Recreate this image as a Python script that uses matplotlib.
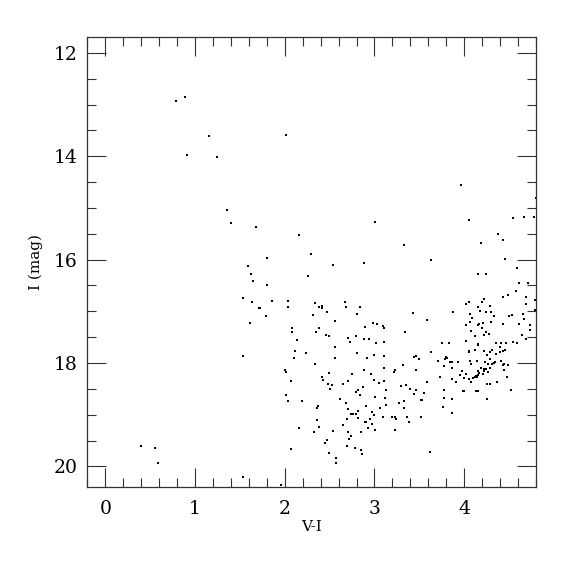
import numpy as np
import matplotlib
matplotlib.use('Agg')
import matplotlib.pyplot as plt
from matplotlib.ticker import MultipleLocator

# colour-magnitude diagram, values
# bright / blue side
v_i_blue = [0.79, 0.885, 1.16, 0.915, 1.245, 1.354, 1.40, 1.685, 1.80, 1.59,
            1.62, 1.65, 1.80, 1.53, 1.63, 1.71, 1.725, 1.86, 1.79, 1.61,
            1.54, 0.40, 0.55, 0.59, 1.54, 1.96, 2.01, 3.01]
mag_blue = [12.94, 12.85, 13.60, 13.98, 14.02, 15.04, 15.29, 15.37, 15.97, 16.13,
            16.27, 16.42, 16.50, 16.74, 16.82, 16.93, 16.93, 16.81, 17.10, 17.22,
            17.86, 19.60, 19.64, 19.94, 20.21, 20.37, 13.58, 15.28]

# middle clump (V-I 2 to 3.5)
v_i_mid = [2.157, 3.33, 2.295, 2.54, 2.88, 2.26, 2.035, 2.035, 2.34, 2.38,
           2.42, 2.42, 2.47, 2.67, 2.68, 2.835, 2.81, 2.31, 3.43, 2.56,
           2.08, 2.08, 2.38, 2.35, 2.90, 2.98, 3.03, 3.095, 3.11, 3.34,
           2.46, 2.49, 2.135, 2.70, 2.73, 2.79, 2.885, 2.935, 3.02, 3.11,
           2.11, 2.24, 2.555, 2.81, 2.99, 3.11, 2.92, 2.10, 2.555, 2.335,
           3.32, 3.44, 3.46, 3.50, 2.00, 3.11, 2.88, 3.23, 3.46, 2.015,
           2.07, 2.49, 2.41, 2.43, 2.485, 2.53, 2.50, 2.75, 2.96, 3.22,
           2.65, 2.70, 2.99, 3.05, 3.11, 3.13, 3.30, 3.355, 3.40, 3.46,
           3.44, 2.87, 2.82, 2.79, 2.84, 2.01, 2.035, 2.19, 2.62, 2.685,
           3.01, 3.12, 3.125, 3.27, 3.33, 3.325, 2.905, 2.37, 2.36, 2.70,
           2.815, 2.76, 2.74, 2.79, 2.97, 3.00, 3.06, 3.09, 3.20, 3.225,
           3.235, 3.36, 3.39, 2.36, 2.38, 2.16, 2.33, 2.54, 2.69, 2.82,
           2.65, 2.90, 2.91, 2.945, 2.97, 2.93, 3.005, 2.71, 2.845, 2.74,
           2.72, 3.225, 2.475, 2.45, 2.69, 2.78, 2.845, 2.86, 2.495, 2.57,
           2.57, 2.075, 3.52, 3.62]
mag_mid = [15.53, 15.71, 15.89, 16.10, 16.07, 16.32, 16.81, 16.91, 16.84, 16.92,
           16.89, 16.94, 17.01, 16.82, 16.91, 16.92, 17.05, 17.08, 17.03, 17.19,
           17.32, 17.41, 17.32, 17.41, 17.30, 17.23, 17.25, 17.29, 17.32, 17.41,
           17.46, 17.48, 17.55, 17.52, 17.60, 17.47, 17.53, 17.53, 17.61, 17.60,
           17.76, 17.81, 17.70, 17.81, 17.85, 17.86, 17.91, 17.90, 17.91, 18.02,
           18.03, 17.89, 17.87, 17.93, 18.14, 18.09, 18.14, 18.14, 18.14, 18.18,
           18.35, 18.20, 18.27, 18.33, 18.41, 18.42, 18.51, 18.21, 18.21, 18.18,
           18.41, 18.34, 18.32, 18.39, 18.35, 18.53, 18.45, 18.42, 18.51, 18.53,
           18.60, 18.47, 18.52, 18.56, 18.62, 18.61, 18.74, 18.74, 18.70, 18.78,
           18.66, 18.67, 18.82, 18.77, 18.74, 18.87, 18.84, 18.84, 18.87, 18.90,
           18.92, 18.98, 18.98, 18.98, 18.95, 19.00, 18.87, 19.04, 19.05, 19.05,
           19.09, 19.05, 19.14, 19.11, 19.23, 19.25, 19.33, 19.31, 19.09, 19.06,
           19.20, 19.14, 19.14, 19.09, 19.18, 19.25, 19.29, 19.33, 19.33, 19.42,
           19.47, 19.29, 19.49, 19.54, 19.60, 19.65, 19.68, 19.77, 19.75, 19.83,
           19.94, 19.67, 19.04, 19.73]

# red branch (V-I > 3.5)
v_i_red = [3.97, 4.805, 4.05, 4.54, 4.67, 4.78, 4.38, 4.43, 4.185, 3.63,
           4.46, 4.59, 4.15, 4.24, 4.61, 4.71, 4.58, 4.49, 4.43, 4.69,
           4.79, 4.69, 4.79, 4.225, 4.20, 4.05, 4.025, 4.155, 4.29, 4.18,
           4.24, 4.30, 4.33, 4.07, 4.09, 3.88, 3.585, 4.50, 4.53, 4.66,
           4.67, 4.02, 4.06, 4.155, 4.17, 4.21, 4.30, 4.43, 4.61, 4.73,
           4.195, 4.08, 4.125, 4.24, 4.22, 4.28, 4.73, 4.64, 4.69, 4.54,
           4.59, 3.75, 3.83, 4.025, 4.15, 4.16, 4.36, 4.41, 4.47, 4.31,
           4.40, 4.43, 4.45, 4.40, 4.12, 4.055, 4.05, 4.22, 4.29, 4.36,
           4.26, 3.63, 3.80, 3.81, 3.79, 3.84, 3.855, 3.87, 3.93, 4.07,
           4.08, 4.14, 4.285, 4.34, 4.33, 4.31, 4.41, 4.23, 4.27, 4.445,
           4.43, 4.49, 3.705, 3.78, 3.86, 4.185, 4.225, 4.24, 4.29, 4.225,
           4.27, 4.445, 3.98, 4.15, 4.17, 4.21, 4.15, 4.13, 4.12, 4.14,
           4.025, 3.955, 4.095, 4.05, 4.00, 4.08, 4.00, 3.99, 4.13, 4.16,
           4.25, 4.285, 4.37, 4.475, 4.52, 4.25, 3.91, 3.86, 3.73, 3.59,
           3.55, 3.515, 3.53, 3.77, 3.87, 3.77, 3.765, 3.87]
mag_red = [14.56, 14.80, 15.23, 15.19, 15.18, 15.18, 15.50, 15.62, 15.68, 16.00,
           15.98, 16.16, 16.28, 16.28, 16.46, 16.46, 16.61, 16.69, 16.73, 16.73,
           16.79, 16.86, 16.97, 16.76, 16.82, 16.82, 16.86, 16.92, 16.89, 17.00,
           17.02, 17.01, 17.09, 17.05, 17.12, 17.01, 17.16, 17.10, 17.08, 17.05,
           17.14, 17.26, 17.21, 17.27, 17.24, 17.23, 17.21, 17.25, 17.25, 17.27,
           17.32, 17.38, 17.47, 17.41, 17.45, 17.44, 17.37, 17.45, 17.54, 17.59,
           17.61, 17.61, 17.61, 17.57, 17.64, 17.66, 17.61, 17.61, 17.61, 17.74,
           17.69, 17.76, 17.74, 17.79, 17.75, 17.76, 17.79, 17.77, 17.79, 17.83,
           17.85, 17.78, 17.89, 17.91, 17.92, 17.98, 17.98, 17.99, 17.99, 17.97,
           18.01, 17.97, 17.92, 17.99, 18.00, 18.01, 17.97, 17.98, 18.02, 18.01,
           18.03, 18.03, 17.97, 18.05, 18.09, 18.10, 18.11, 18.12, 18.10, 18.16,
           18.18, 18.13, 18.16, 18.16, 18.20, 18.21, 18.24, 18.25, 18.27, 18.28,
           18.22, 18.23, 18.30, 18.31, 18.29, 18.37, 18.54, 18.55, 18.54, 18.54,
           18.40, 18.40, 18.36, 18.28, 18.52, 18.70, 18.37, 18.31, 18.28, 18.36,
           18.58, 18.71, 18.71, 18.53, 18.69, 18.68, 18.85, 18.96]

plt.rcParams['font.family'] = ['DejaVu Serif']

fig = plt.figure(figsize=(5.75, 5.75), dpi=100)
ax = fig.add_axes([0.152, 0.153, 0.780, 0.782])

for xs, ys in [(v_i_blue, mag_blue), (v_i_mid, mag_mid), (v_i_red, mag_red)]:
    ax.plot(xs, ys, 's', color='black', ms=1.8, mew=0)

ax.set_xlim(-0.2, 4.8)
ax.set_ylim(20.4, 11.7)
ax.xaxis.set_major_locator(MultipleLocator(1))
ax.xaxis.set_minor_locator(MultipleLocator(0.2))
ax.yaxis.set_major_locator(MultipleLocator(2))
ax.yaxis.set_minor_locator(MultipleLocator(0.5))
ax.tick_params(which='both', direction='in', top=True, right=True, width=0.8,
               color='#333333')
ax.tick_params(which='major', length=13.5, labelsize=13.5)
ax.tick_params(axis='x', which='major', pad=9)
ax.tick_params(axis='y', which='major', pad=7)
ax.tick_params(which='minor', length=6.5)
for s in ax.spines.values():
    s.set_linewidth(0.9)
    s.set_color('#333333')

ax.set_xlabel('V-I', fontsize=11, labelpad=2)
ax.set_ylabel('I (mag)', fontsize=11, labelpad=8)

plt.savefig('out.png', dpi=100)
plt.close()
